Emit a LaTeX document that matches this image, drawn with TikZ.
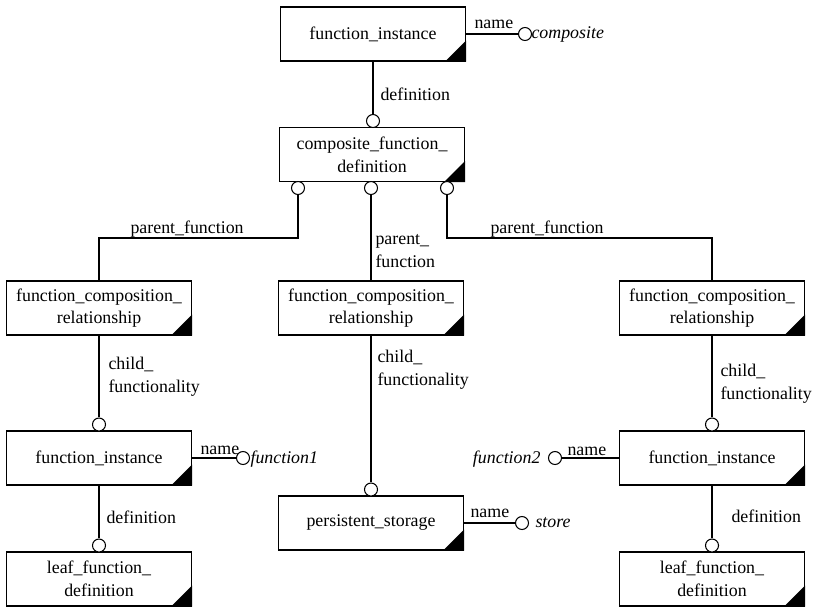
\documentclass[tikz,border=0pt]{standalone}
\usepackage{fontspec}
\setmainfont{Liberation Serif}
\usetikzlibrary{positioning}

\begin{document}
\begin{tikzpicture}[
    x=0.75pt, y=-0.75pt, line width=0.8pt,
    entity/.style={rectangle, draw=black, minimum width=138.75pt, minimum height=40.5pt, align=center, inner sep=2pt, font=\fontsize{13.4}{17}\selectfont,
        append after command={\pgfextra{\fill[black] (\tikzlastnode.south east) -- ++(-21,0) -- ++(21,-21) -- cycle;}}},
    attr/.style={circle, draw=black, fill=white, inner sep=0pt, minimum size=9.75pt},
    role/.style={inner sep=0pt, anchor=base west, align=left, font=\fontsize{13.4}{17}\selectfont},
    value/.style={inner sep=0pt, anchor=base west, font=\fontsize{13.4}{17}\selectfont\itshape}
]
\useasboundingbox (0,0) rectangle (814,607);

% ==== Entity instances ====
\node[entity] (topinst) at (373,34) {function\_instance};
\node[entity] (compdef) at (372,154.5) {composite\_function\_\\definition};
\node[entity] (relleft) at (99,308) {function\_composition\_\\relationship};
\node[entity] (relmid) at (371,308) {function\_composition\_\\relationship};
\node[entity] (relright) at (712,308) {function\_composition\_\\relationship};
\node[entity] (instleft) at (99,458) {function\_instance};
\node[entity] (storage) at (371,523) {persistent\_storage};
\node[entity] (instright) at (712,458) {function\_instance};
\node[entity] (leafleft) at (99,579) {leaf\_function\_\\definition};
\node[entity] (leafright) at (712,579) {leaf\_function\_\\definition};

% ==== Relationship ends ====
\node[attr] (topdefend) at (373,121) {};
\node[attr] (parleftend) at (298,188) {};
\node[attr] (parmidend) at (371,188) {};
\node[attr] (parrightend) at (447,188) {};
\node[attr] (childleftend) at (99,424.5) {};
\node[attr] (childmidend) at (371,489.5) {};
\node[attr] (childrightend) at (712,424.5) {};
\node[attr] (defleftend) at (99,545.5) {};
\node[attr] (defrightend) at (712,545.5) {};

% ==== Name attributes ====
\node[attr] (topnameend) at (525,34) {};
\node[attr] (leftnameend) at (243,458) {};
\node[attr] (storenameend) at (522,523) {};
\node[attr] (rightnameend) at (555,458) {};

\node[value] (topname) at (531,38) {composite};
\node[value] (leftname) at (250,463) {function1};
\node[value] (storename) at (535,527) {store};
\node[value, anchor=base east] (rightname) at (541,463) {function2};

% ==== Connectors ====
\coordinate (bendleft) at (99,238);
\coordinate (bendright) at (712,238);

\draw (topinst.south) -- (topdefend);
\draw (parleftend) |- (bendleft) -- (relleft.north);
\draw (parmidend) -- (relmid.north);
\draw (parrightend) |- (bendright) -- (relright.north);
\draw (relleft.south) -- (childleftend);
\draw (relmid.south) -- (childmidend);
\draw (relright.south) -- (childrightend);
\draw (instleft.south) -- (defleftend);
\draw (instright.south) -- (defrightend);

\draw (topinst.east) -- (topnameend);
\draw (instleft.east) -- (leftnameend);
\draw (storage.east) -- (storenameend);
\draw (instright.west) -- (rightnameend);

% ==== Role labels (base = last line) ====
\node[role] (topdeflabel) at (380,100) {definition};
\node[role] (parleftlabel) at (130,233) {parent\_function};
\node[role] (parmidlabel) at (375,267) {parent\_\\function};
\node[role] (parrightlabel) at (490,233) {parent\_function};
\node[role] (childleftlabel) at (108,392) {child\_\\functionality};
\node[role] (childmidlabel) at (377,385) {child\_\\functionality};
\node[role] (childrightlabel) at (720,399) {child\_\\functionality};
\node[role] (defleftlabel) at (106,523) {definition};
\node[role] (defrightlabel) at (731,522) {definition};

\node[role] (topnamelabel) at (474,28) {name};
\node[role] (leftnamelabel) at (200,454) {name};
\node[role] (storenamelabel) at (470,517) {name};
\node[role] (rightnamelabel) at (567,455) {name};

\end{tikzpicture}
\end{document}
